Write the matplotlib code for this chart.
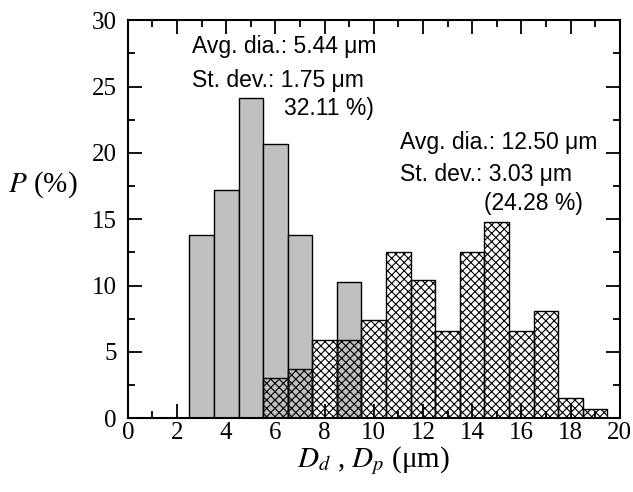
import matplotlib
matplotlib.use("Agg")
import matplotlib.pyplot as plt
from matplotlib.ticker import MultipleLocator

# Data
gray_centers = [3, 4, 5, 6, 7, 8, 9]
gray_values = [13.8, 17.2, 24.1, 20.7, 13.8, 0.0, 10.3]
hatch_centers = [6, 7, 8, 9, 10, 11, 12, 13, 14, 15, 16, 17, 18, 19]
hatch_values = [3.0, 3.7, 5.9, 5.9, 7.4, 12.5, 10.4, 6.6, 12.5, 14.8, 6.6, 8.1, 1.5, 0.7]
x_ticks = [0, 2, 4, 6, 8, 10, 12, 14, 16, 18, 20]
y_ticks = [0, 5, 10, 15, 20, 25, 30]

plt.rcParams['mathtext.fontset'] = 'stix'
plt.rcParams['hatch.linewidth'] = 0.8

fig = plt.figure(figsize=(6.33, 4.92), dpi=100)
ax = fig.add_axes([0.202, 0.150, 0.777, 0.809])

ax.bar(gray_centers, gray_values, width=1.0, color='#c0c0c0', edgecolor='black', linewidth=1.0, zorder=2)
ax.bar(hatch_centers, hatch_values, width=1.0, fill=False, hatch='xxxx', edgecolor='black', linewidth=1.0, zorder=3)

ax.set_xlim(0, 20)
ax.set_ylim(0, 30)
ax.set_xticks(x_ticks)
ax.set_yticks(y_ticks)
ax.xaxis.set_minor_locator(MultipleLocator(1))
ax.yaxis.set_minor_locator(MultipleLocator(2.5))
ax.tick_params(which='both', direction='in', top=True, right=True, width=1.3)
ax.tick_params(which='major', length=10, labelsize=18)
ax.tick_params(axis='x', which='major', pad=3)
ax.tick_params(axis='y', which='major', pad=8)
ax.tick_params(which='minor', length=5)
for lab in ax.get_xticklabels() + ax.get_yticklabels():
    lab.set_fontfamily('Liberation Serif')
for s in ax.spines.values():
    s.set_linewidth(1.5)

ax.set_xlabel(r'$D_d$ , $D_p$ (μm)', fontsize=21, family='Liberation Serif', labelpad=0)
fig.text(0.013, 0.625, r'$P$ (%)', fontsize=21, family='Liberation Serif', ha='left', va='center')

tf = dict(fontsize=16.5, family='Liberation Sans', ha='left', va='center')
fig.text(192/633, 1 - 47/492, 'Avg. dia.: 5.44 μm', **tf)
fig.text(192/633, 1 - 80/492, 'St. dev.: 1.75 μm', **tf)
fig.text(284/633, 1 - 108/492, '32.11 %)', **tf)
fig.text(400/633, 1 - 143/492, 'Avg. dia.: 12.50 μm', **tf)
fig.text(400/633, 1 - 175/492, 'St. dev.: 3.03 μm', **tf)
fig.text(484/633, 1 - 204/492, '(24.28 %)', **tf)

fig.savefig('out.png', dpi=100)
